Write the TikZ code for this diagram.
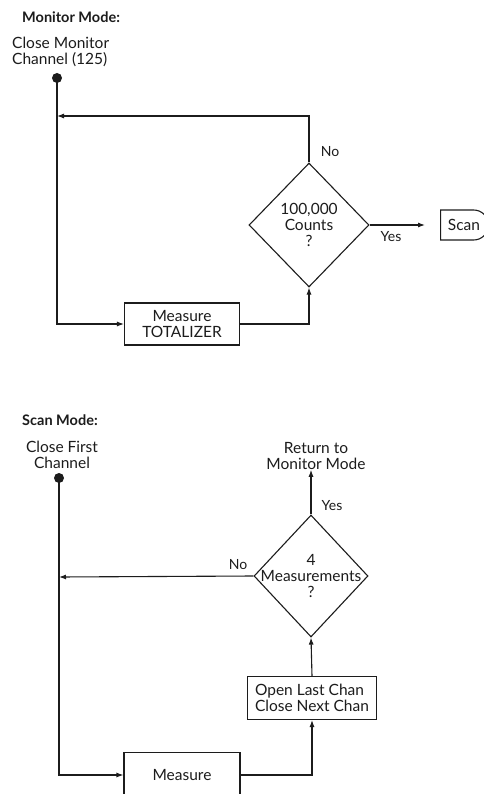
\documentclass[tikz,border=0pt]{standalone}
\usepackage{fontspec}
\setmainfont{Lato}
\usetikzlibrary{positioning, shapes.geometric, shapes.misc, arrows.meta}
\definecolor{cink}{HTML}{1C1C1C}

\begin{document}
\begin{tikzpicture}[
  x=1pt, y=-1pt,
  font=\fontsize{15.5}{16}\selectfont,
  every node/.append style={align=center, text=cink},
  modehead/.style={
    anchor=west, inner sep=0pt,
    font=\fontsize{14.5}{16}\selectfont\bfseries
  },
  startlabel/.style={inner sep=0pt},
  startdot/.style={
    circle, fill=cink,
    inner sep=0pt, minimum size=10pt
  },
  procbox/.style={
    rectangle, draw=cink, line width=1.1pt,
    inner sep=2pt
  },
  decision/.style={
    diamond, draw=cink, line width=1.1pt,
    inner sep=0pt, minimum width=120pt, minimum height=124pt
  },
  decisiontext/.style={inner sep=0pt},
  exitcap/.style={
    rounded rectangle, rounded rectangle left arc=none,
    draw=cink, line width=1.1pt,
    minimum height=30pt, minimum width=52pt, inner sep=2pt
  },
  branch/.style={inner sep=0pt, font=\fontsize{14}{15}\selectfont},
  flow/.style={draw=cink, line width=1.1pt, -{Latex[length=7pt,width=5pt]}}
]
\useasboundingbox (0,0) rectangle (483,794);
\fill[white] (0,0) rectangle (483,794);

% monitor mode
\node[modehead] (mhd) at (22,17) {Monitor Mode:};
\node[startlabel, anchor=north west, align=left] (mst) at (12,37) {%
  Close Monitor\\Channel (125)%
};
\node[startdot] (mdot) at (57,78) {};
\coordinate (mjoin) at (57,116);
\node[decision] (mdec) at (309,225) {};
\node[decisiontext] (mdect) at (mdec) {100,000\\Counts\\?};
\node[procbox, minimum width=115pt, minimum height=42pt] (mtot) at (182,324) {%
  Measure\\TOTALIZER%
};
\node[exitcap, anchor=west] (mscan) at (440,225) {Scan};
\node[branch] (mno) at (330,152) {No};
\node[branch] (myes) at (391,237) {Yes};

\draw[flow] (mdec.north) |- (mjoin);
\draw[flow] (mdot.center) |- (mtot.west);
\draw[flow] (mtot.east) -| (mdec.south);
\draw[flow, shorten >=15pt] (mdec.east) -- (mscan.west);

% scan mode
\node[modehead] (shd) at (22,420) {Scan Mode:};
\node[startlabel] (sst) at (62,455) {Close First\\Channel};
\node[startdot] (sdot) at (59,478) {};
\coordinate (sjoin) at (59,577);
\node[decision, minimum width=114pt, minimum height=122pt] (sdec) at (311,576) {};
\node[decisiontext] (sdect) at (sdec) {4\\Measurements\\?};
\node[startlabel] (sret) at (316,456) {Return to\\Monitor Mode};
\node[procbox, align=left, minimum width=129pt, minimum height=43pt] (sopen) at (312,698) {%
  Open Last Chan\\Close Next Chan%
};
\node[procbox, minimum width=116pt, minimum height=45pt] (smeas) at (182,775) {Measure};
\node[branch] (sno) at (238,565) {No};
\node[branch] (syes) at (332,506) {Yes};

\draw[flow] (sdec.north) -- (sdec.north |- sret.south);
\draw[flow] (sdec.west) -- (sjoin);
\draw[flow] (sdot.center) |- (smeas.west);
\draw[flow] (smeas.east) -| (sopen.south);
\draw[flow] (sopen.north) -- (sdec.south);

\end{tikzpicture}
\end{document}
